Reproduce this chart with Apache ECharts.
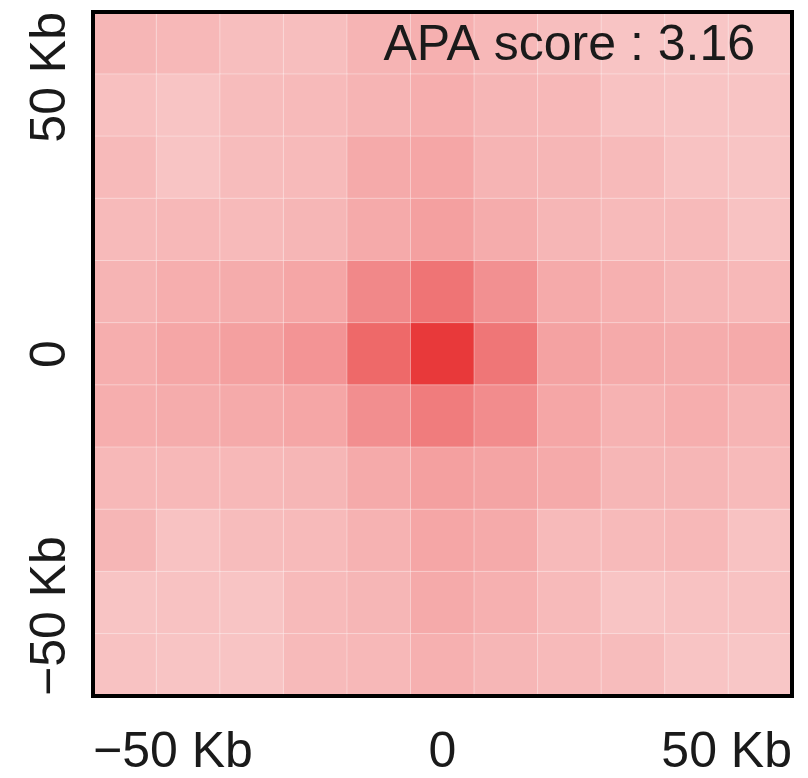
<!DOCTYPE html>
<html>
<head>
<meta charset="utf-8">
<script src="https://cdn.jsdelivr.net/npm/echarts@6/dist/echarts.min.js"></script>
<style>html,body{margin:0;padding:0;background:#fff;}#chart{width:808px;height:778px;}</style>
</head>
<body>
<div id="chart"></div>
<script>
// Bin offsets (columns left->right, rows top->bottom), 10 Kb bins
var colBins = ['-50','-40','-30','-20','-10','0','10','20','30','40','50'];
var rowBins = ['50','40','30','20','10','0','-10','-20','-30','-40','-50'];
// Aggregate signal, percent of the peak (row-major, top row first)
var row0  = [37, 36, 33, 33, 38, 40, 36, 33, 30, 29, 29];
var row1  = [32, 30, 34, 35, 38, 41, 37, 36, 31, 30, 30];
var row2  = [35, 30, 34, 35, 43, 45, 38, 37, 35, 31, 30];
var row3  = [35, 36, 35, 37, 43, 48, 42, 37, 35, 35, 31];
var row4  = [38, 41, 42, 45, 60, 70, 56, 43, 40, 37, 36];
var row5  = [41, 45, 48, 54, 76, 100, 69, 47, 43, 42, 43];
var row6  = [41, 42, 43, 45, 57, 66, 58, 45, 39, 41, 38];
var row7  = [36, 36, 36, 37, 43, 48, 46, 43, 37, 37, 35];
var row8  = [37, 31, 34, 35, 39, 45, 43, 35, 35, 36, 31];
var row9  = [30, 31, 30, 35, 37, 43, 40, 35, 30, 31, 31];
var row10 = [31, 30, 30, 35, 36, 40, 37, 35, 34, 30, 29];
var rows = [row0,row1,row2,row3,row4,row5,row6,row7,row8,row9,row10];
// Tick labels
var tickValues = [-50, 0, 50];
var tickLabels = ['\u221250 Kb', '0', '50 Kb'];
var scoreText = 'APA score : 3.16';

var data = [];
rows.forEach(function (r, i) {
  r.forEach(function (v, j) { data.push([j, i, v]); });
});
function fmt(v) {
  var k = tickValues.indexOf(v);
  return k >= 0 ? tickLabels[k] : '';
}
var FONT = 'Liberation Sans, Arial, Helvetica, sans-serif';
var border = {show: true, onZero: false, lineStyle: {color: '#000', width: 4, cap: 'square'}};

var chart = echarts.init(document.getElementById('chart'), null, {renderer: 'canvas'});
chart.setOption({
  animation: false,
  backgroundColor: '#fff',
  title: {
    text: scoreText, right: 48, top: 16,
    textStyle: {fontFamily: FONT, fontSize: 50, fontWeight: 'normal', color: '#1a1a1a'}
  },
  grid: {left: 93, right: 16, top: 12, bottom: 82},
  xAxis: [
    {type: 'category', data: colBins, position: 'top', z: 10,
     axisLine: border, axisTick: {show: false}, axisLabel: {show: false}, splitLine: {show: false}},
    {type: 'value', min: -50, max: 50, interval: 50, position: 'bottom', z: 10,
     axisLine: border, axisTick: {show: false}, splitLine: {show: false},
     axisLabel: {fontFamily: FONT, fontSize: 50, color: '#1a1a1a', margin: 32,
       alignMinLabel: 'left', alignMaxLabel: 'right', formatter: fmt}}
  ],
  yAxis: [
    {type: 'category', data: rowBins, inverse: true, position: 'right', z: 10,
     axisLine: border, axisTick: {show: false}, axisLabel: {show: false}, splitLine: {show: false}},
    {type: 'value', min: -50, max: 50, interval: 50, position: 'left', z: 10,
     axisLine: border, axisTick: {show: false}, splitLine: {show: false},
     axisLabel: {fontFamily: FONT, fontSize: 50, color: '#1a1a1a', margin: 17, rotate: 90,
       alignMinLabel: 'left', alignMaxLabel: 'right', formatter: fmt}}
  ],
  visualMap: {
    show: false, type: 'continuous', min: 0, max: 100, dimension: 2, seriesIndex: 0,
    inRange: {color: ['#ffffff', '#e8393a']}
  },
  series: [{
    type: 'heatmap', xAxisIndex: 0, yAxisIndex: 0, data: data,
    itemStyle: {borderColor: 'rgba(255,255,255,0.35)', borderWidth: 1},
    emphasis: {disabled: true}, label: {show: false}
  }]
});
</script>
</body>
</html>
